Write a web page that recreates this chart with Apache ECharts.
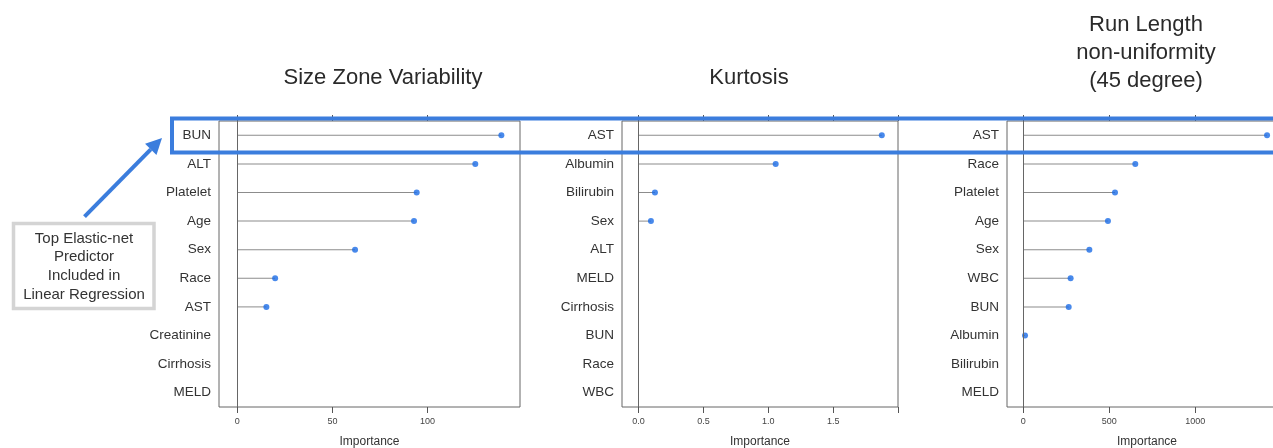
<!DOCTYPE html>
<html><head><meta charset="utf-8">
<script src="https://cdn.jsdelivr.net/npm/echarts@6/dist/echarts.min.js"></script>
<style>html,body{margin:0;padding:0;background:#fff}#c{width:1273px;height:448px}</style>
</head><body><div id="c"></div>
<script>
// ---- data ----
const titles = ['Size Zone Variability', 'Kurtosis', 'Run Length\nnon-uniformity\n(45 degree)'];

const cats1 = ['BUN','ALT','Platelet','Age','Sex','Race','AST','Creatinine','Cirrhosis','MELD'];
const vals1 = [138.8, 125.1, 94.3, 92.9, 61.9, 19.9, 15.3, null, null, null];

const cats2 = ['AST','Albumin','Bilirubin','Sex','ALT','MELD','Cirrhosis','BUN','Race','WBC'];
const vals2 = [1.875, 1.057, 0.126, 0.095, null, null, null, null, null, null];

const cats3 = ['AST','Race','Platelet','Age','Sex','WBC','BUN','Albumin','Bilirubin','MELD'];
const vals3 = [1417, 651, 533, 492, 384, 275, 264, 10, null, null];

const ticks1 = [0, 50, 100];
const ticks2 = [0, 0.5, 1, 1.5, 2];
const labels2 = [0, 0.5, 1, 1.5];
const ticks3 = [0, 500, 1000, 1500];
const labels3 = [0, 500, 1000];

const annotation = ['Top Elastic-net', 'Predictor', 'Included in', 'Linear Regression'];

// ---- layout ----
const FONT = '"Liberation Sans", Arial, Helvetica, sans-serif';
const panels = [
  {cats: cats1, vals: vals1, ticks: ticks1, labels: ticks1, left: 219, width: 301, min: -9.6, max: 148.6, fmt: v => String(v)},
  {cats: cats2, vals: vals2, ticks: ticks2, labels: labels2, left: 622, width: 276, min: -0.128, max: 2.0, fmt: v => v.toFixed(1)},
  {cats: cats3, vals: vals3, ticks: ticks3, labels: labels3, left: 1007, width: 280, min: -94.8, max: 1533, fmt: v => String(v)}
];

const grid = [], xAxis = [], yAxis = [], series = [];
panels.forEach((p, i) => {
  grid.push({left: p.left, top: 121, width: p.width, height: 286, show: true,
             outerBoundsMode: 'none', containLabel: false,
             borderColor: '#666', borderWidth: 1, backgroundColor: 'transparent'});
  xAxis.push({
    type: 'value', gridIndex: i, position: 'bottom', min: p.min, max: p.max,
    axisLine: {show: false}, splitLine: {show: false},
    axisTick: {show: true, customValues: p.ticks, length: 6, lineStyle: {color: '#555'}},
    axisLabel: {customValues: p.labels, fontSize: 9, color: '#444', margin: 10, fontFamily: FONT,
                formatter: v => p.fmt(v)},
    name: 'Importance', nameLocation: 'middle', nameGap: 29,
    nameTextStyle: {fontSize: 12, color: '#333', fontFamily: FONT}
  });
  xAxis.push({
    type: 'value', gridIndex: i, position: 'top', min: p.min, max: p.max,
    axisLine: {show: false}, splitLine: {show: false},
    axisTick: {show: true, customValues: p.ticks, length: 6, lineStyle: {color: '#555'}},
    axisLabel: {show: false}
  });
  yAxis.push({
    type: 'category', gridIndex: i, data: p.cats, inverse: true,
    axisLine: {show: false}, axisTick: {show: false}, splitLine: {show: false},
    axisLabel: {fontSize: 13.5, color: '#333', margin: 8, fontFamily: FONT}
  });
  series.push({
    type: 'bar', xAxisIndex: 2 * i, yAxisIndex: i, data: p.vals, barWidth: 1,
    itemStyle: {color: '#8c8c8c'}, silent: true, animation: false,
    markLine: {silent: true, symbol: 'none', label: {show: false},
               lineStyle: {color: '#666', width: 1, type: 'solid'}, data: [{xAxis: 0}]}
  });
  series.push({
    type: 'scatter', xAxisIndex: 2 * i, yAxisIndex: i, data: p.vals,
    symbolSize: 6, itemStyle: {color: '#1a6ce6'}, silent: true, animation: false
  });
});

// ---- annotations (graphic) ----
const BLUE = '#3b7ddd';
const tip = [162, 138], tail = [84.5, 216.6];
const dx = tip[0] - tail[0], dy = tip[1] - tail[1], L = Math.hypot(dx, dy);
const ux = dx / L, uy = dy / L, hl = 16, hw = 8;
const base = [tip[0] - hl * ux, tip[1] - hl * uy];
const graphic = [
  {type: 'text', style: {text: titles[0], x: 383, y: 78, fontSize: 22, fontFamily: FONT, fill: '#2a2a2a', textAlign: 'center', textVerticalAlign: 'middle'}},
  {type: 'text', style: {text: titles[1], x: 749, y: 78, fontSize: 22, fontFamily: FONT, fill: '#2a2a2a', textAlign: 'center', textVerticalAlign: 'middle'}},
  {type: 'text', style: {text: titles[2], x: 1146, y: 53, fontSize: 22, lineHeight: 28, fontFamily: FONT, fill: '#2a2a2a', textAlign: 'center', textVerticalAlign: 'middle'}},
  {type: 'rect', z: 100, shape: {x: 172, y: 118.5, width: 1200, height: 34}, style: {fill: 'none', stroke: BLUE, lineWidth: 4}},
  {type: 'line', z: 100, shape: {x1: tail[0], y1: tail[1], x2: base[0], y2: base[1]}, style: {stroke: BLUE, lineWidth: 4}},
  {type: 'polygon', z: 100, shape: {points: [tip, [base[0] - hw * uy, base[1] + hw * ux], [base[0] + hw * uy, base[1] - hw * ux]]}, style: {fill: BLUE}},
  {type: 'rect', z: 100, shape: {x: 13.5, y: 223.5, width: 140.5, height: 85}, style: {fill: '#fff', stroke: '#d4d4d4', lineWidth: 3.5}},
  {type: 'text', z: 101, style: {text: annotation.join('\n'), x: 84, y: 266.5, fontSize: 15, lineHeight: 18.7, fontFamily: FONT, fill: '#333', textAlign: 'center', textVerticalAlign: 'middle'}}
];

const chart = echarts.init(document.getElementById('c'), null, {renderer: 'canvas'});
chart.setOption({animation: false, backgroundColor: '#fff', grid, xAxis, yAxis, series, graphic});
</script>
</body></html>
